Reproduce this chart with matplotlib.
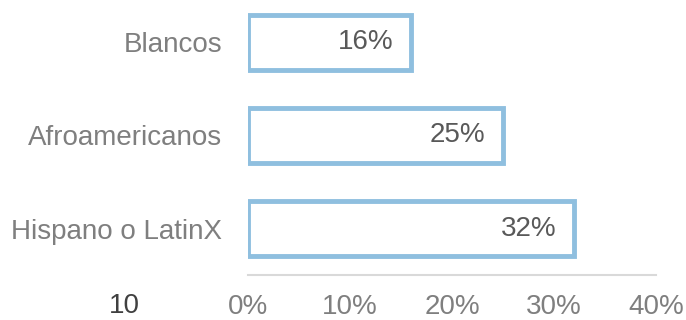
import matplotlib.pyplot as plt

plt.rcParams['font.family'] = ['Liberation Sans', 'DejaVu Sans']

# Data
categories = ['Blancos', 'Afroamericanos', 'Hispano o LatinX']
values = [16, 25, 32]
xticks = [0, 10, 20, 30, 40]

fig = plt.figure(figsize=(6.86, 3.2), dpi=100)
ax = fig.add_axes([0.3615, 0.1406, 0.5948, 0.872])

ax.barh(range(len(categories)), values, height=0.59, color='white',
        edgecolor='#8fbfdf', linewidth=3.5)
ax.set_ylim(2.5, -0.5)
ax.set_xlim(0, 40)

for i, v in enumerate(values):
    ax.text(v - 1.75, i, f'{v}%', ha='right', va='center', fontsize=20, color='#595959')

ax.set_yticks(range(len(categories)))
ax.set_yticklabels(categories, fontsize=20, color='#7f7f7f')
ax.set_xticks(xticks)
ax.set_xticklabels([f'{t}%' for t in xticks], fontsize=20, color='#7f7f7f')
ax.tick_params(length=0)
ax.tick_params(axis='y', pad=18.5)
ax.tick_params(axis='x', pad=14)

for s in ['top', 'right', 'left']:
    ax.spines[s].set_visible(False)
ax.spines['bottom'].set_color('#d9d9d9')
ax.spines['bottom'].set_linewidth(1.5)

fig.text(124 / 686, 1 - 306 / 320, '10', ha='center', va='center', fontsize=20, color='#404040')

fig.savefig('out.png', dpi=100)
